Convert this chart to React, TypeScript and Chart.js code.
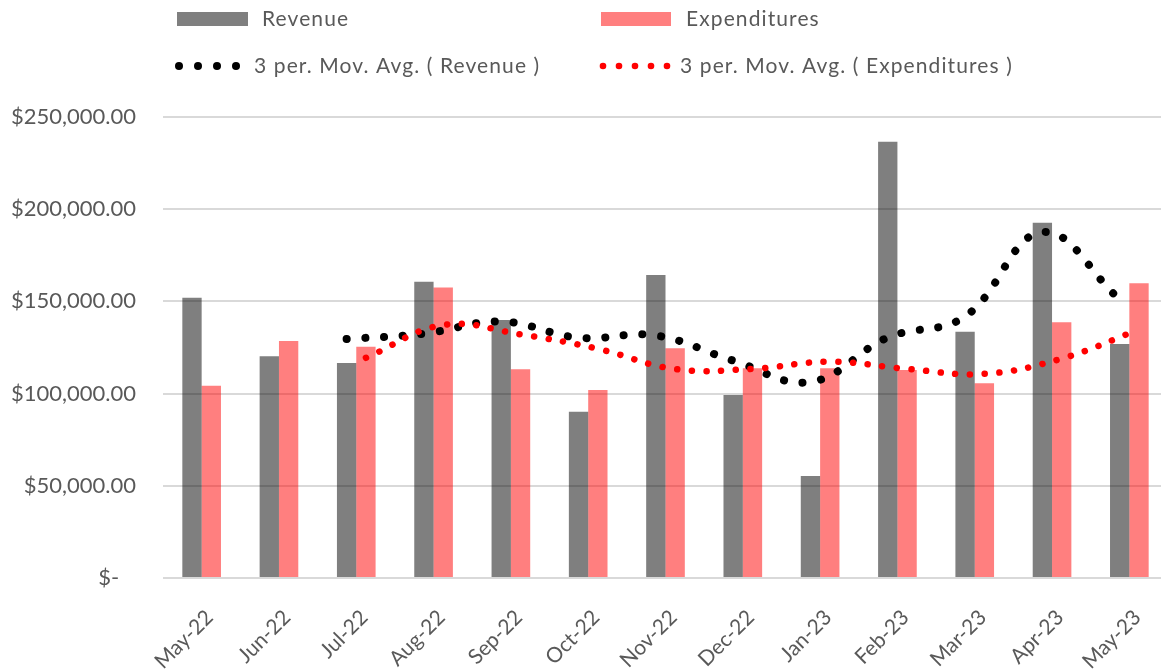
import React, { useEffect, useRef } from "react";
import { Chart, registerables } from "chart.js";

Chart.register(...registerables);

const categories = [
  "May-22", "Jun-22", "Jul-22", "Aug-22", "Sep-22", "Oct-22", "Nov-22",
  "Dec-22", "Jan-23", "Feb-23", "Mar-23", "Apr-23", "May-23",
];

const revenue = [
  152000, 120200, 116600, 160700, 139900, 90200, 164300,
  99200, 55300, 236600, 133600, 192700, 126900,
];

const expenditures = [
  104300, 128500, 125400, 157600, 113200, 102000, 124600,
  113700, 113700, 112800, 105600, 138700, 159800,
];

// 3-period moving averages as read from the trendlines (first two periods empty)
const revenueMovAvg = [
  null, null, 129600, 132500, 139100, 130300, 131500,
  117900, 106300, 130400, 141800, 187600, 151100,
];

const expendituresMovAvg = [
  null, null, 119400, 137200, 132100, 124300, 113300,
  113400, 117300, 113400, 110700, 119000, 134700,
];

const yTickValues = [0, 50000, 100000, 150000, 200000, 250000];

const seriesLabels = ["Revenue", "Expenditures"];
const trendLabels = ["3 per. Mov. Avg. ( Revenue )", "3 per. Mov. Avg. ( Expenditures )"];

const TEXT_COLOR = "#595959";
const FONT_FAMILY = "Lato, 'Open Sans', sans-serif";
const CATEGORY_PCT = 0.5;
// trendline sits at the centre of its own bar in the cluster
const BAR_SHIFT = CATEGORY_PCT / 4;

function toPoints(values: (number | null)[], shift: number) {
  const pts: { x: number; y: number }[] = [];
  values.forEach((v, i) => {
    if (v !== null) pts.push({ x: i + shift, y: v });
  });
  return pts;
}

function barPoints(values: number[]) {
  return values.map((v, i) => ({ x: i, y: v }));
}

function fmtMoney(v: number) {
  if (v === 0) return "$-   ";
  return "$" + v.toLocaleString("en-US", { minimumFractionDigits: 2, maximumFractionDigits: 2 });
}

const legendPlugin = {
  id: "excelLegend",
  afterDraw(chart: any) {
    const ctx = chart.ctx;
    const ds = chart.data.datasets;
    ctx.save();
    ctx.font = `21px ${FONT_FAMILY}`;
    try {
      (ctx as any).letterSpacing = "1.1px";
    } catch (e) {}
    ctx.textBaseline = "middle";
    ctx.textAlign = "left";

    const col1 = 177;
    const col2 = 601;
    const row1 = 19;
    const row2 = 66;

    ctx.fillStyle = ds[0].backgroundColor;
    ctx.fillRect(col1, 12, 71, 14);
    ctx.fillStyle = TEXT_COLOR;
    ctx.fillText(ds[0].label, 262, row1);

    ctx.fillStyle = ds[1].backgroundColor;
    ctx.fillRect(col2, 12, 70, 14);
    ctx.fillStyle = TEXT_COLOR;
    ctx.fillText(ds[1].label, 686, row1);

    ctx.fillStyle = ds[2].borderColor;
    for (let k = 0; k < 4; k++) {
      ctx.beginPath();
      ctx.arc(col1 + 2 + k * 19, row2, 4, 0, Math.PI * 2);
      ctx.fill();
    }
    ctx.fillStyle = TEXT_COLOR;
    ctx.fillText(ds[2].label, 254, row2);

    ctx.fillStyle = ds[3].borderColor;
    for (let k = 0; k < 5; k++) {
      ctx.beginPath();
      ctx.arc(col2 + 2 + k * 16, row2, 3.3, 0, Math.PI * 2);
      ctx.fill();
    }
    ctx.fillStyle = TEXT_COLOR;
    ctx.fillText(ds[3].label, 680, row2);
    ctx.restore();
  },
};

export default function App() {
  const canvasRef = useRef<HTMLCanvasElement | null>(null);

  useEffect(() => {
    const canvas = canvasRef.current;
    if (!canvas) return;
    const chart = new Chart(canvas, {
      type: "bar",
      data: {
        datasets: [
          {
            type: "bar",
            label: seriesLabels[0],
            data: barPoints(revenue) as any,
            backgroundColor: "rgba(0,0,0,0.5)",
            borderWidth: 0,
            categoryPercentage: CATEGORY_PCT,
            barPercentage: 1,
            order: 3,
          },
          {
            type: "bar",
            label: seriesLabels[1],
            data: barPoints(expenditures) as any,
            backgroundColor: "rgba(255,0,0,0.5)",
            borderWidth: 0,
            categoryPercentage: CATEGORY_PCT,
            barPercentage: 1,
            order: 4,
          },
          {
            type: "line",
            label: trendLabels[0],
            data: toPoints(revenueMovAvg, -BAR_SHIFT) as any,
            borderColor: "#000000",
            backgroundColor: "#000000",
            borderWidth: 8,
            borderDash: [0.1, 18.6],
            borderCapStyle: "round",
            pointRadius: 0,
            tension: 0.4,
            fill: false,
            order: 2,
          },
          {
            type: "line",
            label: trendLabels[1],
            data: toPoints(expendituresMovAvg, BAR_SHIFT) as any,
            borderColor: "#ff0000",
            backgroundColor: "#ff0000",
            borderWidth: 6.5,
            borderDash: [0.1, 14.6],
            borderCapStyle: "round",
            pointRadius: 0,
            tension: 0.4,
            fill: false,
            order: 1,
          },
        ] as any,
      },
      options: {
        responsive: false,
        animation: false,
        events: [],
        layout: { padding: { top: 117, right: 0, bottom: 0, left: 0 } },
        plugins: {
          legend: { display: false },
          tooltip: { enabled: false },
        },
        scales: {
          x: {
            type: "linear",
            min: -0.5,
            max: categories.length - 0.5,
            offset: false,
            afterBuildTicks: (s: any) => {
              s.ticks = categories.map((_, i) => ({ value: i }));
            },
            grid: { display: false },
            border: { display: false },
            ticks: {
              minRotation: 45,
              maxRotation: 45,
              autoSkip: false,
              padding: 19,
              labelOffset: 8,
              color: TEXT_COLOR,
              font: { family: FONT_FAMILY, size: 21 },
              callback: (v: any) => categories[Math.round(Number(v))] ?? "",
            },
            afterFit: (s: any) => {
              s.height = 93;
            },
          },
          y: {
            type: "linear",
            min: yTickValues[0],
            max: yTickValues[yTickValues.length - 1],
            afterBuildTicks: (s: any) => {
              s.ticks = yTickValues.map((v) => ({ value: v }));
            },
            grid: { color: "#d9d9d9", lineWidth: 2, drawTicks: false },
            border: { display: false },
            ticks: {
              padding: 27,
              color: TEXT_COLOR,
              font: { family: FONT_FAMILY, size: 22 },
              callback: (v: any) => fmtMoney(Number(v)),
            },
            afterFit: (s: any) => {
              s.width = 163;
            },
          },
        },
      } as any,
      plugins: [legendPlugin],
    });
    return () => chart.destroy();
  }, []);

  return (
    <div
      style={{
        position: "absolute",
        left: 0,
        top: 0,
        width: 1161,
        height: 671,
        overflow: "hidden",
        background: "#ffffff",
      }}
    >
      <canvas ref={canvasRef} width={1168} height={671} style={{ display: "block" }} />
    </div>
  );
}
